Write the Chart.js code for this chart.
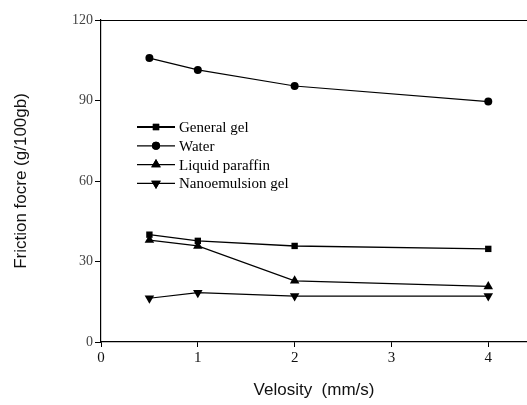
<!DOCTYPE html>
<html>
<head>
<meta charset="utf-8">
<script src="https://cdn.jsdelivr.net/npm/chart.js@4/dist/chart.umd.min.js"></script>
<style>
  html, body { margin: 0; padding: 0; background: #fff; }
  #wrap { width: 527px; height: 405px; position: relative; }
</style>
</head>
<body>
<div id="wrap"><canvas id="c" width="527" height="405"></canvas></div>
<script>
// ---- data ----
const velocity = [0.5, 1, 2, 4];
const generalGel = [40, 37.7, 35.8, 34.7];
const water = [105.8, 101.4, 95.4, 89.6];
const liquidParaffin = [38, 35.8, 22.8, 20.7];
const nanoemulsionGel = [16.3, 18.4, 17.1, 17.1];
const seriesNames = ['General gel', 'Water', 'Liquid paraffin', 'Nanoemulsion gel'];
const xTicks = [0, 1, 2, 3, 4];
const yTicks = [0, 30, 60, 90, 120];
const xTitle = 'Velosity  (mm/s)';
const yTitle = 'Friction focre (g/100gb)';

const serif = "'Liberation Serif', 'Times New Roman', serif";
const sans = "'Liberation Sans', Arial, sans-serif";

function pts(ys) { return velocity.map((v, i) => ({ x: v, y: ys[i] })); }

const styles = [
  { pointStyle: 'rect', pointRadius: 4.5, borderWidth: 1.4 },
  { pointStyle: 'circle', pointRadius: 4, borderWidth: 1.2 },
  { pointStyle: 'triangle', pointRadius: 5.5, borderWidth: 1.2 },
  { pointStyle: 'triangle', pointRadius: 5.5, borderWidth: 1.2, pointRotation: 180 }
];
const seriesData = [generalGel, water, liquidParaffin, nanoemulsionGel];

const datasets = seriesNames.map((name, i) => ({
  label: name,
  data: pts(seriesData[i]),
  borderColor: '#000',
  backgroundColor: '#000',
  pointBackgroundColor: '#000',
  pointBorderColor: '#000',
  pointBorderWidth: 0,
  pointStyle: styles[i].pointStyle,
  pointRadius: styles[i].pointRadius,
  pointRotation: styles[i].pointRotation || 0,
  borderWidth: styles[i].borderWidth,
  tension: 0,
  fill: false
}));

const framePlugin = {
  id: 'frame',
  afterDraw(chart) {
    const { ctx, chartArea } = chart;
    ctx.save();
    // top frame line
    ctx.strokeStyle = '#000';
    ctx.lineWidth = 1.2;
    ctx.beginPath();
    ctx.moveTo(chartArea.left, chartArea.top + 0.5);
    ctx.lineTo(chartArea.right, chartArea.top + 0.5);
    ctx.stroke();

    // legend inside plot
    const lx0 = chartArea.left + 36;
    const lineLen = 38;
    const ty0 = chartArea.top + 107;
    const rowH = 18.8;
    ctx.font = '15px ' + serif;
    ctx.textBaseline = 'middle';
    ctx.fillStyle = '#000';
    chart.data.datasets.forEach((ds, i) => {
      const y = ty0 + i * rowH;
      ctx.strokeStyle = '#000';
      ctx.lineWidth = i === 0 ? 2 : 1.2;
      ctx.beginPath();
      ctx.moveTo(lx0, y);
      ctx.lineTo(lx0 + lineLen, y);
      ctx.stroke();
      Chart.helpers.drawPoint(ctx, {
        pointStyle: ds.pointStyle,
        radius: ds.pointRadius,
        rotation: ds.pointRotation,
        borderWidth: 0
      }, lx0 + lineLen / 2, y);
      ctx.fillStyle = '#000';
      ctx.fill();
      ctx.fillText(ds.label, lx0 + lineLen + 4, y + 1);
    });
    ctx.restore();
  }
};

new Chart(document.getElementById('c'), {
  type: 'line',
  data: { datasets },
  options: {
    responsive: false,
    animation: false,
    devicePixelRatio: 1,
    layout: { autoPadding: false, padding: { top: 20, left: 0, right: 0, bottom: 0 } },
    plugins: { legend: { display: false }, tooltip: { enabled: false } },
    scales: {
      x: {
        type: 'linear',
        min: 0,
        max: 4.4,
        afterFit(s) { s.height = 63; s.paddingRight = 0; s.paddingLeft = 0; },
        afterBuildTicks(s) { s.ticks = xTicks.map(v => ({ value: v })); },
        ticks: { font: { family: serif, size: 15 }, color: '#111', padding: 2, maxRotation: 0 },
        grid: { drawOnChartArea: false, drawTicks: true, tickLength: 5, color: '#000', lineWidth: 1 },
        border: { display: true, color: '#000', width: 1.2 },
        title: { display: true, text: xTitle, font: { family: sans, size: 17 }, color: '#111', padding: { top: 0, bottom: 4 } }
      },
      y: {
        type: 'linear',
        min: 0,
        max: 120,
        afterFit(s) { s.width = 101; s.paddingTop = 0; s.paddingBottom = 0; },
        afterBuildTicks(s) { s.ticks = yTicks.map(v => ({ value: v })); },
        ticks: { font: { family: serif, size: 14 }, color: '#444', padding: 2 },
        grid: { drawOnChartArea: false, drawTicks: true, tickLength: 6, color: '#000', lineWidth: 1 },
        border: { display: true, color: '#000', width: 1.2 },
        title: { display: true, text: yTitle, font: { family: sans, size: 17 }, color: '#111', padding: { top: 11, bottom: 0 } }
      }
    }
  },
  plugins: [framePlugin]
});
</script>
</body>
</html>
